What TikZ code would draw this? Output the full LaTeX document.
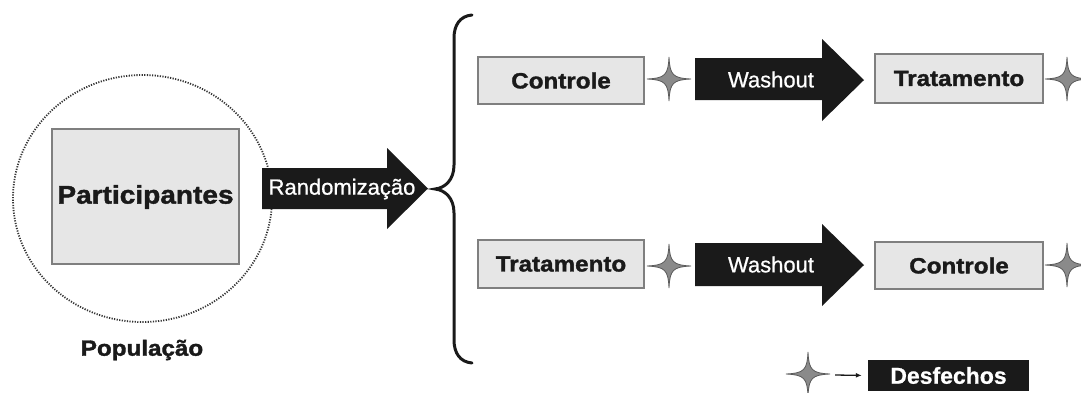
\documentclass[tikz,border=0pt]{standalone}
\usepackage{fontspec}
\usetikzlibrary{arrows.meta}
\setmainfont{Liberation Sans}
\newfontfamily\heavyfont[FakeStretch=1.1,FakeBold=1.6]{Liberation Sans}
\newfontfamily\medfont[FakeBold=0.8]{Liberation Sans}
\definecolor{boxfill}{HTML}{E6E6E6}
\definecolor{boxline}{HTML}{7F7F7F}
\definecolor{ink}{HTML}{1A1A1A}
\definecolor{starfill}{HTML}{8A8A8A}
\definecolor{starline}{HTML}{5A5A5A}
\definecolor{dotline}{HTML}{333333}
\begin{document}
\begin{tikzpicture}[x=1pt,y=-1pt,
  graybox/.style={draw=boxline,fill=boxfill,line width=1.2pt},
  boxlabel/.style={text=ink,font=\heavyfont\bfseries\fontsize{22}{26}\selectfont,inner sep=0pt},
  arrowlabel/.style={text=white,font=\medfont\fontsize{22}{26}\selectfont,inner sep=0pt},
  blockarrow/.style={fill=ink},
  bracestyle/.style={draw=ink,line width=3pt,line cap=round},
  pics/sparkle/.style={code={
    \filldraw[fill=starfill,draw=starline,line width=0.8pt]
      (22,0) .. controls (4,0.8) and (0.8,4) .. (0,22)
      .. controls (-0.8,4) and (-4,0.8) .. (-22,0)
      .. controls (-4,-0.8) and (-0.8,-4) .. (0,-22)
      .. controls (0.8,-4) and (4,-0.8) .. (22,0) -- cycle;
  }}]
\useasboundingbox (0,0) rectangle (1081,392);

% population
\draw[dotline,line width=1.8pt,dash pattern=on 1.2pt off 1.4pt] (142.5,198.5) ellipse [x radius=129.5, y radius=123.5];
\draw[graybox] (52,129) rectangle (239,264);
\node[boxlabel,font=\heavyfont\bfseries\fontsize{25.5}{30}\selectfont] (part) at (145.5,197) {Participantes};
\node[boxlabel] (pop) at (142,350) {População};

% randomization arrow
\fill[blockarrow] (262,168) -- (387,168) -- (387,148) -- (428,188.5) -- (387,229) -- (387,209) -- (262,209) -- cycle;
\node[arrowlabel] (rand) at (342,189) {Randomização};

% brace
\draw[bracestyle] (472,15) .. controls (460,16) and (454,25) .. (454,38)
  -- (454,165) .. controls (454,180) and (445,188) .. (435,189)
  .. controls (445,190) and (454,198) .. (454,213)
  -- (454,340) .. controls (454,353) and (460,362) .. (472,363);

% top row
\draw[graybox] (478,57) rectangle (644,104);
\node[boxlabel] (c1) at (561,80.5) {Controle};
\pic at (669,79) {sparkle};
\fill[blockarrow] (695,58) -- (822,58) -- (822,39) -- (864,80) -- (822,121) -- (822,100) -- (695,100) -- cycle;
\node[arrowlabel] (w1) at (771,79.5) {Washout};
\draw[graybox] (875,54) rectangle (1043,103);
\node[boxlabel] (t1) at (959,78.5) {Tratamento};
\pic at (1067,79) {sparkle};

% bottom row
\draw[graybox] (478,240) rectangle (644,288);
\node[boxlabel] (t2) at (561,264) {Tratamento};
\pic at (669,266) {sparkle};
\fill[blockarrow] (695,243) -- (822,243) -- (822,224) -- (864,265) -- (822,306) -- (822,286) -- (695,286) -- cycle;
\node[arrowlabel] (w2) at (771,264.5) {Washout};
\draw[graybox] (875,242) rectangle (1043,289);
\node[boxlabel] (c2) at (959,265.5) {Controle};
\pic at (1067,265) {sparkle};

% legend
\pic at (808,374) {sparkle};
\coordinate (legstart) at (835,375);
\node[fill=ink,text=white,font=\medfont\bfseries\fontsize{23}{26}\selectfont,minimum width=161pt,minimum height=31pt,inner sep=0pt] (desf) at (948.5,375.5) {Desfechos};
\draw[ink,line width=1.3pt,-{Latex[length=6pt,width=5pt]},shorten >=6pt] (legstart) -- (desf.west);
\end{tikzpicture}
\end{document}
